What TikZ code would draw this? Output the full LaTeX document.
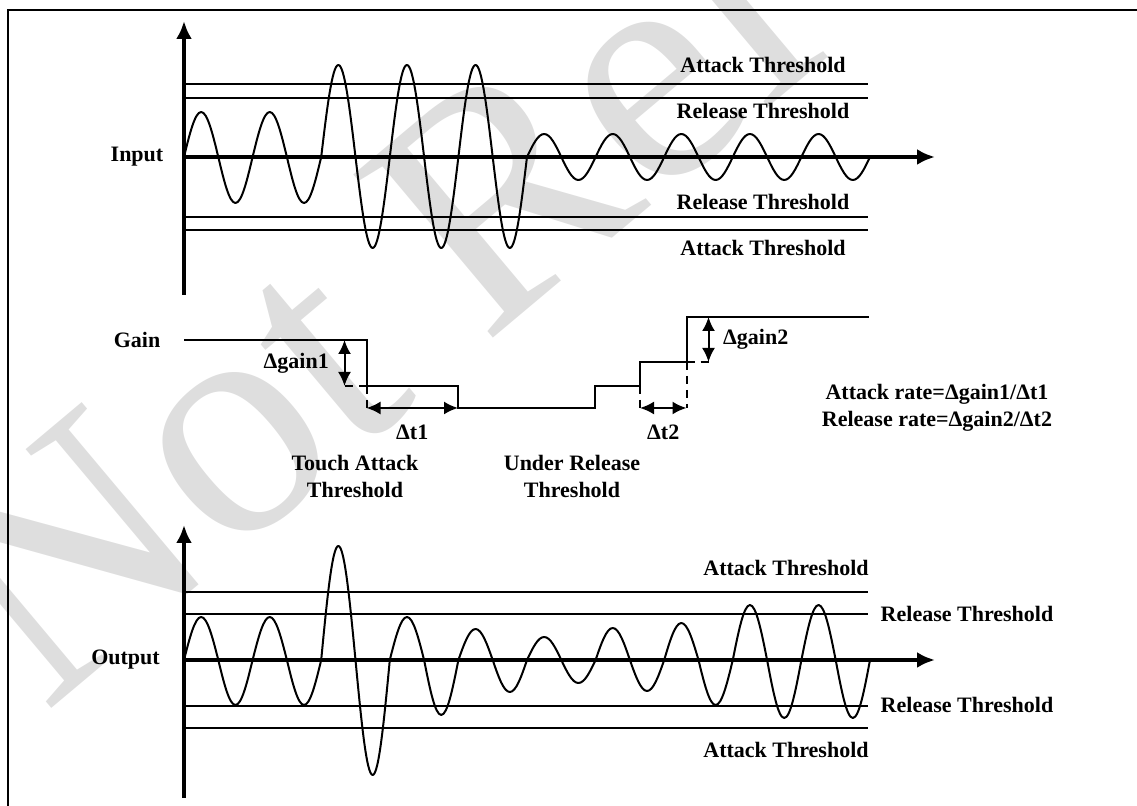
\documentclass[tikz,border=0pt]{standalone}
\usepackage{fontspec}
\setmainfont{Liberation Serif}
\usetikzlibrary{arrows.meta,positioning}

\begin{document}
\begin{tikzpicture}[
        x=0.5pt, y=-0.5pt,
        font=\fontsize{11}{13.4}\selectfont\bfseries,
        frame/.style={line width=0.75pt},
        axis/.style={line width=1.8pt, -{Latex[length=9pt,width=8pt]}},
        level/.style={line width=1pt},
        wave/.style={line width=1pt, line join=round},
        gainline/.style={line width=1pt},
        guide/.style={line width=1pt, dash pattern=on 4pt off 3pt},
        dim/.style={line width=1pt, {Latex[length=7pt,width=6.5pt]}-{Latex[length=7pt,width=6.5pt]}},
        wmark/.style={text=black!13, font=\fontsize{164}{164}\selectfont, rotate=40}
        ]
        \useasboundingbox (0,0) rectangle (1137,806);
        % watermark
        \begin{scope}
          \clip (0,0) rectangle (1137,806);
          \node[wmark] (wm) at (367,298) {Not Rel};
        \end{scope}
        \draw[frame] (8,806) -- (8,10) -- (1137,10);

        % input
        \coordinate (in-o) at (184,157);
        \foreach \y in {84,98,217,230}
          \draw[level] (184,\y) -- (868,\y);
        \draw[wave] (in-o)
          \foreach \p/\q in {45/46,45/46,92/91,92/91,92/91,23/23,23/23,23/23,23/23,23/23}
          { sin ++(17.15,-\p) cos ++(17.15,\p) sin ++(17.15,\q) cos ++(17.15,-\q) };
        \draw[axis] (184,295) -- (184,21);
        \draw[axis] (in-o) -- (935,157);
        \node (in-lab) at (137,157) {Input};
        \node at (763,65) {Attack Threshold};
        \node at (763,111) {Release Threshold};
        \node at (763,202) {Release Threshold};
        \node at (763,248) {Attack Threshold};

        % gain
        \node (gain-lab) at (137,340) {Gain};
        \draw[gainline] (184,340) -| (366.5,386) coordinate (a1)
          -| (458,408) coordinate (a2) -| (595,386) -| (640,362) coordinate (r1)
          -| (686.5,317) coordinate (r2) -- (869,317);
        \draw[guide] (a1) -- (344.5,386);
        \draw[guide] (a1) -- (a1 |- a2);
        \draw[guide] (640,386) -- (640,408);
        \draw[guide] (r1 -| r2) -- (r2 |- a2);
        \draw[guide] (r1 -| r2) -- (710,362);
        \coordinate (d1t) at (344.5,340);
        \coordinate (d1b) at (344.5,386);
        \coordinate (d2t) at (708.5,317);
        \coordinate (d2b) at (708.5,362);
        \draw[dim] (d1t) -- node[left=4pt] {Δgain1} (d1b);
        \draw[dim] (a1 |- a2) -- node[below=4.5pt] {Δt1} (a2);
        \draw[dim] (640,408) -- node[below=4.5pt] {Δt2} (r2 |- a2);
        \draw[dim] (d2t) -- node[right=3.5pt] {Δgain2} (d2b);
        \node[align=center] (rates) at (937,408) {Attack rate=Δgain1/Δt1\\Release rate=Δgain2/Δt2};
        \node[align=center] (touch) at (355,476.5) {Touch Attack\\Threshold};
        \node[align=center] (under) at (572,476.5) {Under Release\\Threshold};

        % output
        \coordinate (out-o) at (184,660);
        \foreach \y in {592,614,706,728}
          \draw[level] (184,\y) -- (868,\y);
        \draw[wave] (out-o)
          \foreach \p/\q in {43/45,43/45,114/115,43/55,31/32,23/23,32/31,37/45,55/58,55/58}
          { sin ++(17.15,-\p) cos ++(17.15,\p) sin ++(17.15,\q) cos ++(17.15,-\q) };
        \draw[axis] (184,798) -- (184,525);
        \draw[axis] (out-o) -- (935,660);
        \node (out-lab) at (125.5,660) {Output};
        \node at (786,568) {Attack Threshold};
        \node at (967,614) {Release Threshold};
        \node at (967,705) {Release Threshold};
        \node at (786,750) {Attack Threshold};
\end{tikzpicture}
\end{document}
